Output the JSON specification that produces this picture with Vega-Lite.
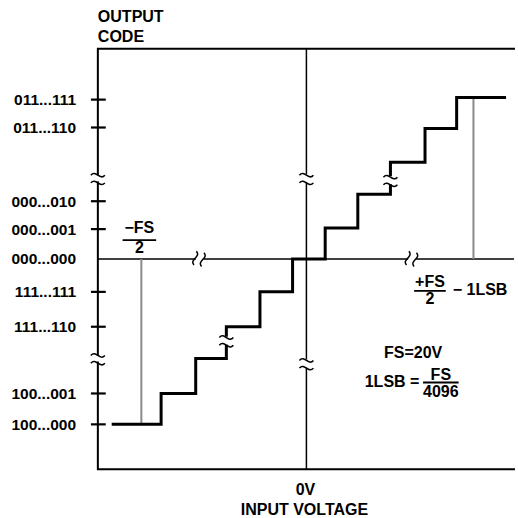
{
  "$schema": "https://vega.github.io/schema/vega-lite/v6.json",
  "width": 518,
  "height": 518,
  "padding": 0,
  "autosize": {"type": "fit", "contains": "padding"},
  "background": "white",
  "config": {"view": {"stroke": null}, "text": {"font": "Liberation Sans", "fontWeight": "bold", "fontSize": 16, "color": "black"}},
  "datasets": {
    "lines": [
      {"g": "frame1", "k": "frame", "o": 0, "x": 520, "y": 49},
      {"g": "frame1", "k": "frame", "o": 1, "x": 99, "y": 49},
      {"g": "frame1", "k": "frame", "o": 2, "x": 99, "y": 175},
      {"g": "frame2", "k": "frame", "o": 0, "x": 99, "y": 183},
      {"g": "frame2", "k": "frame", "o": 1, "x": 99, "y": 356},
      {"g": "frame3", "k": "frame", "o": 0, "x": 99, "y": 364},
      {"g": "frame3", "k": "frame", "o": 1, "x": 99, "y": 471},
      {"g": "frame3", "k": "frame", "o": 2, "x": 520, "y": 471},
      {"g": "center1", "k": "thin", "o": 0, "x": 310, "y": 49},
      {"g": "center1", "k": "thin", "o": 1, "x": 310, "y": 175},
      {"g": "center2", "k": "thin", "o": 0, "x": 310, "y": 183},
      {"g": "center2", "k": "thin", "o": 1, "x": 310, "y": 361},
      {"g": "center3", "k": "thin", "o": 0, "x": 310, "y": 369},
      {"g": "center3", "k": "thin", "o": 1, "x": 310, "y": 471},
      {"g": "zero1", "k": "thin", "o": 0, "x": 99, "y": 260},
      {"g": "zero1", "k": "thin", "o": 1, "x": 198, "y": 260},
      {"g": "zero2", "k": "thin", "o": 0, "x": 206, "y": 260},
      {"g": "zero2", "k": "thin", "o": 1, "x": 413, "y": 260},
      {"g": "zero3", "k": "thin", "o": 0, "x": 421, "y": 260},
      {"g": "zero3", "k": "thin", "o": 1, "x": 520, "y": 260},
      {"g": "neg", "k": "gray", "o": 0, "x": 143, "y": 260},
      {"g": "neg", "k": "gray", "o": 1, "x": 143, "y": 426},
      {"g": "pos", "k": "gray", "o": 0, "x": 479, "y": 98},
      {"g": "pos", "k": "gray", "o": 1, "x": 479, "y": 260},
      {"g": "stairA", "k": "stair", "o": 0, "x": 113, "y": 426},
      {"g": "stairA", "k": "stair", "o": 1, "x": 163, "y": 426},
      {"g": "stairA", "k": "stair", "o": 2, "x": 163, "y": 395},
      {"g": "stairA", "k": "stair", "o": 3, "x": 198, "y": 395},
      {"g": "stairA", "k": "stair", "o": 4, "x": 198, "y": 360},
      {"g": "stairA", "k": "stair", "o": 5, "x": 229, "y": 360},
      {"g": "stairA", "k": "stair", "o": 6, "x": 229, "y": 346},
      {"g": "stairB", "k": "stair", "o": 0, "x": 229, "y": 338},
      {"g": "stairB", "k": "stair", "o": 1, "x": 229, "y": 328},
      {"g": "stairB", "k": "stair", "o": 2, "x": 263, "y": 328},
      {"g": "stairB", "k": "stair", "o": 3, "x": 263, "y": 293},
      {"g": "stairB", "k": "stair", "o": 4, "x": 296, "y": 293},
      {"g": "stairB", "k": "stair", "o": 5, "x": 296, "y": 260},
      {"g": "stairB", "k": "stair", "o": 6, "x": 329, "y": 260},
      {"g": "stairB", "k": "stair", "o": 7, "x": 329, "y": 229},
      {"g": "stairB", "k": "stair", "o": 8, "x": 362, "y": 229},
      {"g": "stairB", "k": "stair", "o": 9, "x": 362, "y": 195},
      {"g": "stairB", "k": "stair", "o": 10, "x": 395, "y": 195},
      {"g": "stairB", "k": "stair", "o": 11, "x": 395, "y": 185},
      {"g": "stairC", "k": "stair", "o": 0, "x": 395, "y": 177},
      {"g": "stairC", "k": "stair", "o": 1, "x": 395, "y": 163},
      {"g": "stairC", "k": "stair", "o": 2, "x": 430, "y": 163},
      {"g": "stairC", "k": "stair", "o": 3, "x": 430, "y": 129},
      {"g": "stairC", "k": "stair", "o": 4, "x": 462, "y": 129},
      {"g": "stairC", "k": "stair", "o": 5, "x": 462, "y": 98},
      {"g": "stairC", "k": "stair", "o": 6, "x": 512, "y": 98},
      {"g": "t1", "k": "tick", "o": 0, "x": 92, "y": 100},
      {"g": "t1", "k": "tick", "o": 1, "x": 107, "y": 100},
      {"g": "t2", "k": "tick", "o": 0, "x": 92, "y": 128},
      {"g": "t2", "k": "tick", "o": 1, "x": 107, "y": 128},
      {"g": "t3", "k": "tick", "o": 0, "x": 92, "y": 202},
      {"g": "t3", "k": "tick", "o": 1, "x": 107, "y": 202},
      {"g": "t4", "k": "tick", "o": 0, "x": 92, "y": 230},
      {"g": "t4", "k": "tick", "o": 1, "x": 107, "y": 230},
      {"g": "t5", "k": "tick", "o": 0, "x": 92, "y": 293},
      {"g": "t5", "k": "tick", "o": 1, "x": 107, "y": 293},
      {"g": "t6", "k": "tick", "o": 0, "x": 92, "y": 328},
      {"g": "t6", "k": "tick", "o": 1, "x": 107, "y": 328},
      {"g": "t7", "k": "tick", "o": 0, "x": 92, "y": 395},
      {"g": "t7", "k": "tick", "o": 1, "x": 107, "y": 395},
      {"g": "t8", "k": "tick", "o": 0, "x": 92, "y": 426},
      {"g": "t8", "k": "tick", "o": 1, "x": 107, "y": 426},
      {"g": "b1", "k": "bar", "o": 0, "x": 124, "y": 241},
      {"g": "b1", "k": "bar", "o": 1, "x": 158, "y": 241},
      {"g": "b2", "k": "bar", "o": 0, "x": 419, "y": 292},
      {"g": "b2", "k": "bar", "o": 1, "x": 451, "y": 292},
      {"g": "b3", "k": "bar", "o": 0, "x": 428, "y": 384},
      {"g": "b3", "k": "bar", "o": 1, "x": 464, "y": 384}
    ],
    "breaks": [
      {"on": "vertical", "x": 99, "y": 179},
      {"on": "vertical", "x": 99, "y": 360},
      {"on": "vertical", "x": 310, "y": 179},
      {"on": "vertical", "x": 310, "y": 365},
      {"on": "vertical", "x": 229, "y": 342},
      {"on": "vertical", "x": 395, "y": 181},
      {"on": "horizontal", "x": 202, "y": 260},
      {"on": "horizontal", "x": 417, "y": 260}
    ],
    "labels": [
      {"role": "code", "text": "011...111", "x": 77, "y": 100},
      {"role": "code", "text": "011...110", "x": 77, "y": 128},
      {"role": "code", "text": "000...010", "x": 77, "y": 202},
      {"role": "code", "text": "000...001", "x": 77, "y": 230},
      {"role": "code", "text": "000...000", "x": 77, "y": 260},
      {"role": "code", "text": "111...111", "x": 77, "y": 293},
      {"role": "code", "text": "111...110", "x": 77, "y": 328},
      {"role": "code", "text": "100...001", "x": 77, "y": 395},
      {"role": "code", "text": "100...000", "x": 77, "y": 426},
      {"role": "left", "text": "OUTPUT", "x": 99, "y": 22},
      {"role": "left", "text": "CODE", "x": 99, "y": 42},
      {"role": "left", "text": "− 1LSB", "x": 458, "y": 296},
      {"role": "left", "text": "1LSB =", "x": 369, "y": 389},
      {"role": "center", "text": "0V", "x": 309, "y": 497},
      {"role": "center", "text": "INPUT VOLTAGE", "x": 308, "y": 517},
      {"role": "center", "text": "−FS", "x": 141, "y": 234},
      {"role": "center", "text": "2", "x": 141, "y": 254},
      {"role": "center", "text": "+FS", "x": 435, "y": 288},
      {"role": "center", "text": "2", "x": 435, "y": 305},
      {"role": "center", "text": "FS=20V", "x": 418, "y": 359},
      {"role": "center", "text": "FS", "x": 446, "y": 381},
      {"role": "center", "text": "4096", "x": 446, "y": 399}
    ]
  },
  "encoding": {
    "x": {"field": "x", "type": "quantitative", "axis": null, "scale": {"domain": [0, 518], "nice": false, "zero": false}},
    "y": {"field": "y", "type": "quantitative", "axis": null, "scale": {"domain": [0, 518], "nice": false, "zero": false, "reverse": true}}
  },
  "layer": [
    {"data": {"name": "lines"}, "transform": [{"filter": "datum.k === 'frame'"}], "mark": {"type": "line", "color": "black", "strokeWidth": 2, "strokeJoin": "miter", "strokeCap": "square"}, "encoding": {"detail": {"field": "g"}, "order": {"field": "o", "type": "quantitative"}}},
    {"data": {"name": "lines"}, "transform": [{"filter": "datum.k === 'thin'"}], "mark": {"type": "line", "color": "black", "strokeWidth": 1.5}, "encoding": {"detail": {"field": "g"}, "order": {"field": "o", "type": "quantitative"}}},
    {"data": {"name": "lines"}, "transform": [{"filter": "datum.k === 'gray'"}], "mark": {"type": "line", "color": "#8a8a8a", "strokeWidth": 2}, "encoding": {"detail": {"field": "g"}, "order": {"field": "o", "type": "quantitative"}}},
    {"data": {"name": "lines"}, "transform": [{"filter": "datum.k === 'stair'"}], "mark": {"type": "line", "color": "black", "strokeWidth": 3, "strokeJoin": "miter"}, "encoding": {"detail": {"field": "g"}, "order": {"field": "o", "type": "quantitative"}}},
    {"data": {"name": "lines"}, "transform": [{"filter": "datum.k === 'tick'"}], "mark": {"type": "line", "color": "black", "strokeWidth": 2.2}, "encoding": {"detail": {"field": "g"}, "order": {"field": "o", "type": "quantitative"}}},
    {"data": {"name": "lines"}, "transform": [{"filter": "datum.k === 'bar'"}], "mark": {"type": "line", "color": "black", "strokeWidth": 1.8}, "encoding": {"detail": {"field": "g"}, "order": {"field": "o", "type": "quantitative"}}},
    {"data": {"name": "breaks"}, "transform": [{"filter": "datum.on === 'vertical'"}], "mark": {"type": "point", "filled": false, "color": "black", "strokeWidth": 1.5, "opacity": 1, "size": 196, "shape": "M-1 -0.45 C-0.3 -1.3 0.3 0.4 1 -0.45 M-1 0.65 C-0.3 -0.2 0.3 1.5 1 0.65"}},
    {"data": {"name": "breaks"}, "transform": [{"filter": "datum.on === 'horizontal'"}], "mark": {"type": "point", "filled": false, "color": "black", "strokeWidth": 1.5, "opacity": 1, "size": 196, "angle": 100, "shape": "M-1 -0.45 C-0.3 -1.3 0.3 0.4 1 -0.45 M-1 0.65 C-0.3 -0.2 0.3 1.5 1 0.65"}},
    {"data": {"name": "labels"}, "transform": [{"filter": "datum.role === 'code'"}], "mark": {"type": "text", "align": "right", "baseline": "alphabetic", "dy": 5.5, "fontSize": 15.5}, "encoding": {"text": {"field": "text"}}},
    {"data": {"name": "labels"}, "transform": [{"filter": "datum.role === 'left'"}], "mark": {"type": "text", "align": "left", "baseline": "alphabetic"}, "encoding": {"text": {"field": "text"}}},
    {"data": {"name": "labels"}, "transform": [{"filter": "datum.role === 'center'"}], "mark": {"type": "text", "align": "center", "baseline": "alphabetic"}, "encoding": {"text": {"field": "text"}}}
  ]
}
